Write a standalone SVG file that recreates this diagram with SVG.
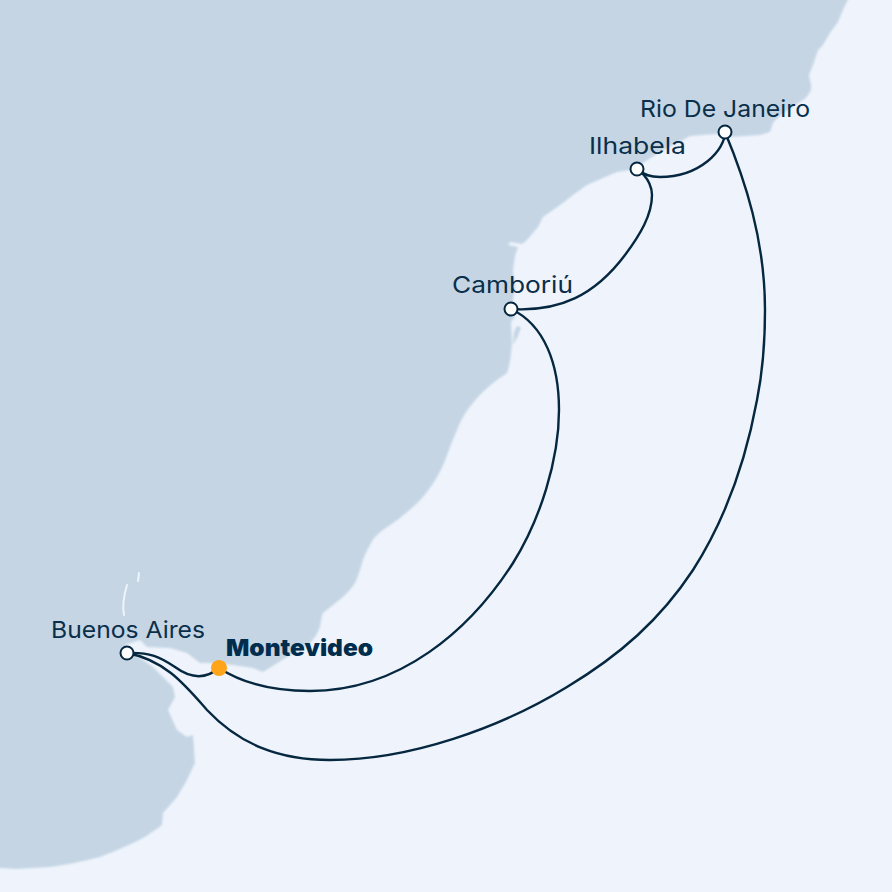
<svg xmlns="http://www.w3.org/2000/svg" width="892" height="892" viewBox="0 0 892 892">
<style>
.route{fill:none;stroke:#05273f;stroke-width:2.4;stroke-linecap:round}
.port{fill:#fff;stroke:#05273f;stroke-width:2}
.lbl{font-family:Inter,"Open Sans","Liberation Sans",sans-serif;font-size:23px;fill:#0a2f4b}
.riv{fill:none;stroke:#eff4fc;stroke-width:2;stroke-linecap:round}
</style>
<defs><filter id="soft" x="-2%" y="-2%" width="104%" height="104%"><feGaussianBlur stdDeviation="0.8"/></filter></defs>
<rect id="sea" width="892" height="892" fill="#eff4fc"/>
<g filter="url(#soft)">
<path id="land" fill="#c5d5e4" d="M-5,-5H850L843,10 838,22 830,33 823,45 818,50 813,65 809,75C810,82 812,85 811,90C808,96 806,98 803,100L783,113C778,118 775,120 773,123L770,132 760,135 730,137 716,134 703,135 690,136 683,140 663,150 643,163 630,170 617,172 603,178 587,185 573,195 563,203 543,217 538,227 527,240 522,244 510,242 508,245 518,247 515,256 513,270 515,287 513,300 515,317 511,322 512,343C511,355 510,365 507,373C500,378 497,380 493,383C485,390 478,396 473,403C466,411 463,417 460,423C456,432 453,440 450,447C446,458 443,467 437,477C430,489 422,499 413,507C403,516 395,522 383,530C376,535 372,540 370,545C367,550 365,555 363,560C360,570 358,577 355,583C352,588 348,592 343,597L323,613C321,618 321,622 320,627C317,634 314,639 310,643L287,657 263,672 253,668 233,665 217,663 200,663 187,653 170,648 147,647 140,640 125,645 133,653 153,667 173,687 175,697 168,710 177,730 187,737 193,735 195,763 187,780 177,797 163,813 162,825C150,834 142,839 133,843C118,850 110,853 100,857C80,862 65,865 50,867L17,869 -5,868V-5Z"/>
<path fill="#c5d5e4" d="M514,332L517,326 521,327 518,336 513,345Z"/>
</g>
<path class="riv" d="M127,585C124,595 122,605 124,615"/>
<path class="riv" d="M139,573L138,581"/>
<g id="connectors">
<path class="route" d="M725,132C725,150 700,177 660,177C650,177 645,175 637,169"/>
<path class="route" d="M637,169C650,178 652,190 652,195C652,215 640,235 625,255C595,295 560,312 511,309"/>
<path class="route" d="M511,309C545,325 559,365 559,410C559,460 540,520 513,563C470,630 400,691 310,691C275,691 245,685 219,668"/>
<path class="route" d="M219,668C205,680 190,678 175,667C160,657 150,652 127,653"/>
<path class="route" d="M127,653C165,660 185,685 207,710C240,745 280,760 330,760C410,760 500,728 567,687C620,655 660,620 693,570C725,520 745,465 757,400C762,375 765,345 765,310C765,240 745,180 725,132"/>
</g>
<g id="rio"><circle class="port" cx="725" cy="132" r="6.5"/><text class="lbl" x="640" y="117" textLength="170" lengthAdjust="spacingAndGlyphs">Rio De Janeiro</text></g>
<g id="ilhabela"><circle class="port" cx="637" cy="169" r="6.5"/><text class="lbl" x="589" y="154" textLength="97" lengthAdjust="spacingAndGlyphs">Ilhabela</text></g>
<g id="camboriu"><circle class="port" cx="511" cy="309" r="6.5"/><text class="lbl" x="452" y="293" textLength="121" lengthAdjust="spacingAndGlyphs">Camboriú</text></g>
<g id="buenos-aires"><circle class="port" cx="127" cy="653" r="6.5"/><text class="lbl" x="51" y="638" textLength="154" lengthAdjust="spacingAndGlyphs">Buenos Aires</text></g>
<g id="montevideo"><circle cx="219" cy="668" r="8" fill="#ffa41b"/><text class="lbl" x="226" y="656" textLength="147" lengthAdjust="spacingAndGlyphs" style="font-weight:900;fill:#002d4d">Montevideo</text></g>
</svg>
